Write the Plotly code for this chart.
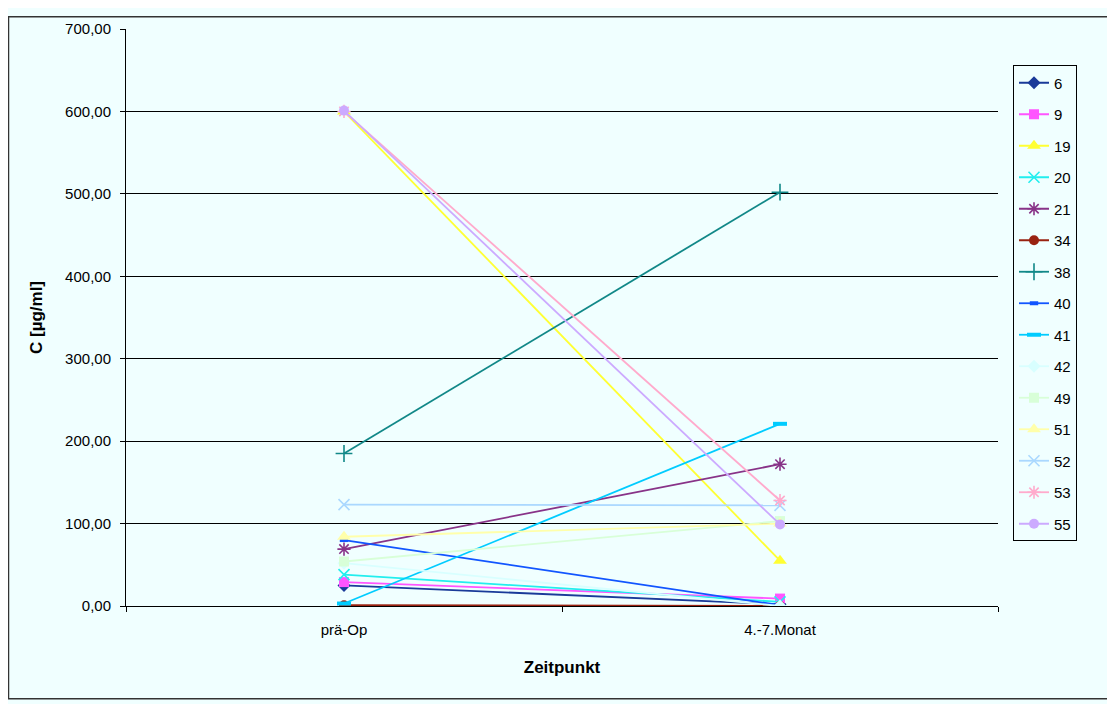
import plotly.graph_objects as go

categories = ["prä-Op", "4.-7.Monat"]
series_names = ["6", "9", "19", "20", "21", "34", "38", "40", "41", "42", "49", "51", "52", "53", "55"]
pre_op = [25, 29, 600, 38, 69, 1, 185, 80, 3, 52, 54, 84, 123, 600, 601]
month_4_7 = [2, 9, 55, 5, 172, 0, 502, 1, 221, 0, 103, 100, 122, 128, 99]

colors = ["#1A3A99", "#FF55FF", "#FFFF33", "#22EEEE", "#883388", "#992211", "#118888",
          "#1155FF", "#00CCFF", "#D8FFFF", "#D8FFD8", "#FFFFAA", "#AAD8FF", "#FFAACC", "#CCAAFF"]
symbols = ["diamond", "square", "triangle-up", "x-thin-open", "asterisk-open", "circle",
           "cross-thin-open", "line-ew-open", "line-ew-open", "diamond", "square", "triangle-up",
           "x-thin-open", "asterisk-open", "circle"]
sizes = [10, 10, 12, 11, 11, 10, 12, 6, 10, 10, 10, 12, 11, 11, 10]

W, H = 1107, 696
L, R, T, B = 118, 990, 13, 598

fig = go.Figure()
for i, name in enumerate(series_names):
    sym = symbols[i]
    open_sym = sym.endswith("open")
    fig.add_trace(go.Scatter(
        x=categories, y=[pre_op[i], month_4_7[i]], name=name, mode="lines+markers",
        legendgroup=name,
        line=dict(color=colors[i], width=1.8),
        marker=dict(symbol=sym, size=sizes[i], color=colors[i],
                    line=dict(color=colors[i], width=(4 if sym == "line-ew-open" else 1.6) if open_sym else 0)),
    ))

pw, ph = R - L, B - T
fig.update_layout(
    width=W, height=H,
    paper_bgcolor="#F0FFFF", plot_bgcolor="#F0FFFF",
    margin=dict(l=L, r=W - R, t=T, b=H - B),
    separators=",.",
    font=dict(family="Liberation Sans, Arial, sans-serif", size=15, color="black"),
    showlegend=True,
    legend=dict(x=(1005 - L) / pw, y=(B - 50) / ph, xanchor="left", yanchor="top",
                bordercolor="black", borderwidth=1, bgcolor="#F0FFFF",
                font=dict(size=15), tracegroupgap=9, itemwidth=30),
    xaxis=dict(type="category", range=[-0.5, 1.5], showgrid=False, showline=True,
               linecolor="black", linewidth=1, ticks="outside", tickson="boundaries",
               ticklen=5, tickcolor="black", ticklabelstandoff=10,
               title=dict(text="<b>Zeitpunkt</b>", font=dict(size=17), standoff=24)),
    yaxis=dict(range=[0, 700], dtick=100, tickformat=".2f", showgrid=True,
               gridcolor="black", gridwidth=1, showline=True, linecolor="black",
               linewidth=1, ticks="outside", ticklen=5, tickcolor="black", zeroline=False,
               ticklabelstandoff=6,
               title=dict(text="<b>C [µg/ml]</b>", font=dict(size=17), standoff=18)),
    shapes=[dict(type="rect", xref="paper", yref="paper",
                 x0=(0.5 - L) / pw, x1=(1105 - L) / pw,
                 y0=(B - 692) / ph, y1=(B - 0.5) / ph,
                 line=dict(color="#333333", width=1.5), layer="below")],
)

fig.write_html("out.html")
